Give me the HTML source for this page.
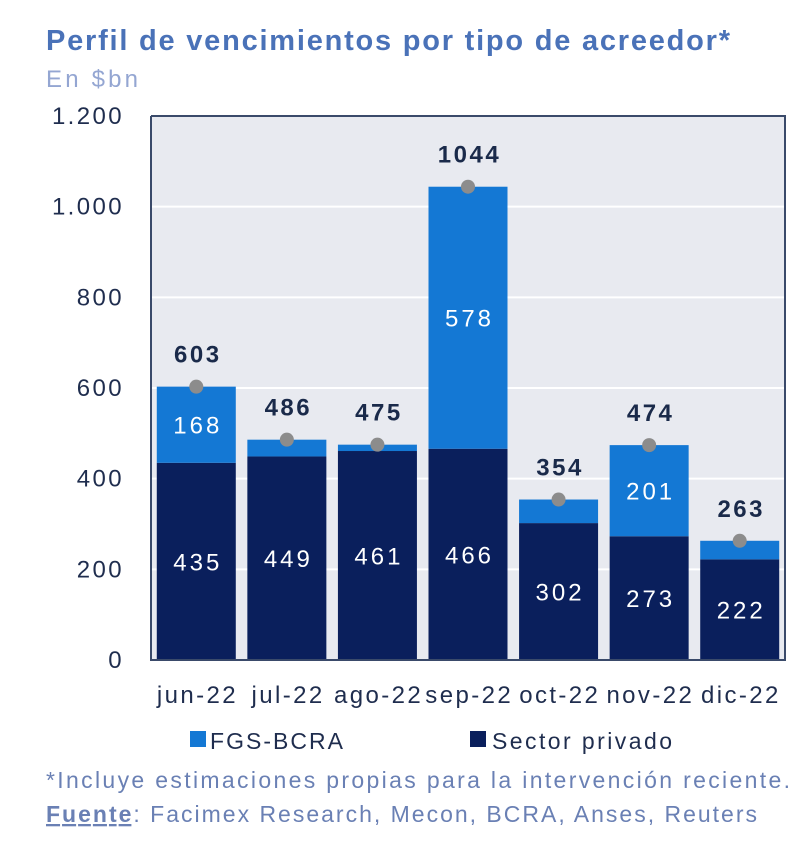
<!DOCTYPE html>
<html><head><meta charset="utf-8"><style>
body{margin:0;background:#fff;width:800px;height:852px;overflow:hidden;font-family:"Liberation Sans",Arial,sans-serif}
</style></head><body>
<svg width="800" height="852" xmlns="http://www.w3.org/2000/svg" id="svg">
<text x="46" y="50" font-size="29" font-weight="bold" fill="#4a72b8" textLength="684" lengthAdjust="spacing">Perfil de vencimientos por tipo de acreedor*</text>
<text x="46" y="87" font-size="24" fill="#94a6d2" textLength="92" lengthAdjust="spacing">En $bn</text>
<rect x="151" y="116" width="634" height="544" fill="#e8eaf0"/>
<g id="grid"></g><g id="bars"></g>
<path d="M151 116 V660 H785 V116 H151" fill="none" stroke="#3a4a6a" stroke-width="2"/>
<g id="labels"></g>
<rect x="190" y="731" width="16" height="16" fill="#1478d4"/>
<text x="210" y="749" font-size="23" fill="#1f2d4e" textLength="133" lengthAdjust="spacing">FGS-BCRA</text>
<rect x="470" y="731" width="16" height="16" fill="#0a1f5c"/>
<text x="492" y="749" font-size="23" fill="#1f2d4e" textLength="180" lengthAdjust="spacing">Sector privado</text>
<text x="46" y="788" font-size="23" fill="#6a80b4" textLength="744" lengthAdjust="spacing">*Incluye estimaciones propias para la intervención reciente.</text>
<text x="46" y="822" font-size="23" fill="#6a80b4" textLength="711" lengthAdjust="spacing"><tspan font-weight="bold" text-decoration="underline">Fuente</tspan>: Facimex Research, Mecon, BCRA, Anses, Reuters</text>
</svg>
<script>
const categories=["jun-22","jul-22","ago-22","sep-22","oct-22","nov-22","dic-22"];
const privado=[435,449,461,466,302,273,222];
const fgs=[168,37,14,578,52,201,41];
const totals=[603,486,475,1044,354,474,263];
const ticks=[0,200,400,600,800,1000,1200];
const tickLabels=["0","200","400","600","800","1.000","1.200"];
const NS="http://www.w3.org/2000/svg";
const x0=151,pw=634,y0=660,ph=544,ymax=1200;
const y=v=>y0-v/ymax*ph;
const slot=pw/categories.length, bw=79;
const cx=i=>x0+slot*(i+0.5);
function mk(t,a,p,txt){const e=document.createElementNS(NS,t);for(const k in a)e.setAttribute(k,a[k]);if(txt!==undefined)e.textContent=txt;document.getElementById(p).appendChild(e);return e;}
ticks.forEach((t,i)=>{
 if(t>0&&t<ymax){const l=mk('line',{x1:x0,x2:x0+pw,y1:y(t),y2:y(t),stroke:'#fff','stroke-width':2},'grid');
 
 }
 const tl=mk('text',{x:124,y:y(t)+8,'font-size':24,'letter-spacing':2.4,fill:'#1f2d4e','text-anchor':'end'},'labels',tickLabels[i]);
 
 
});
categories.forEach((c,i)=>{
 const bx=cx(i)-bw/2;
 const r1=mk('rect',{x:bx,y:y(privado[i]),width:bw,height:y0-y(privado[i]),fill:'#0a1f5c'},'bars');
 
 
 const r2=mk('rect',{x:bx,y:y(privado[i]+fgs[i]),width:bw,height:y(privado[i])-y(privado[i]+fgs[i]),fill:'#1478d4'},'bars');
 
 
 const l1=mk('text',{x:cx(i)+1.5,y:(y(privado[i])+y0)/2+9,'font-size':24,'letter-spacing':3,fill:'#fff','text-anchor':'middle'},'labels',privado[i]);
 
 
 if(fgs[i]>100){const l2=mk('text',{x:cx(i)+1.5,y:(y(privado[i])+y(privado[i]+fgs[i]))/2+9,'font-size':24,'letter-spacing':3,fill:'#fff','text-anchor':'middle'},'labels',fgs[i]);
 
 }
 const d=mk('circle',{cx:cx(i),cy:y(totals[i]),r:7,fill:'#8c8c8c'},'labels');
 
 
 const t=mk('text',{x:cx(i)+1.5,y:y(totals[i])-24,'font-size':24,'letter-spacing':2.5,'font-weight':'bold',fill:'#1a2a4a','text-anchor':'middle'},'labels',totals[i]);
 
 
 const xl=mk('text',{x:cx(i)+1.2,y:703,'font-size':24,'letter-spacing':2.4,fill:'#1f2d4e','text-anchor':'middle'},'labels',c);
 
 
});
</script>
</body></html>
